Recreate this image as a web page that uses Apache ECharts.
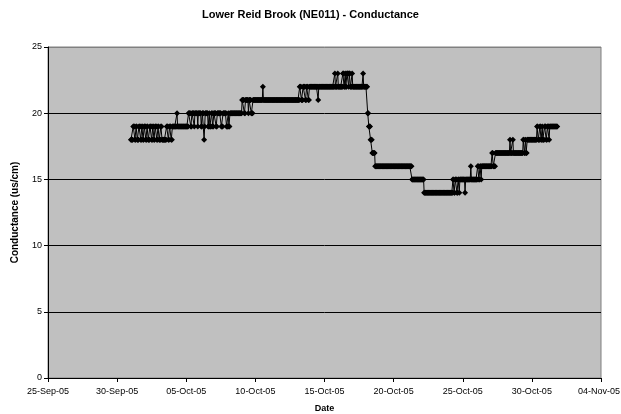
<!DOCTYPE html>
<html>
    <head>
        <meta charset="UTF-8" />
        <script src="https://cdn.jsdelivr.net/npm/echarts@6/dist/echarts.min.js"></script>
    </head>

    <body style="margin:0;background:#fff">
        <div id="main" style="width: 621px; height: 414px"></div>
        <script type="text/javascript">
            // hourly readings from 01-Oct-05 00:00, stored as runs of equal values
            var runLevels = [
                18,
                19,18,19,18,19,18,19,18,19,18,19,18,19,18,19,18,19,18,19,18,19,18,
                19,18,19,18,19,
                19,20,19,
                20,19,20,19,20,19,20,19,20,18,19,20,19,20,19,20,19,20,19,20,19,20,19,20,19,20,
                21,20,21,20,21,20,21,22,21,
                22,21,22,21,22,21,
                22,21,22,23,22,23,22,23,22,23,22,23,22,23,22,23,22,23,22,
                20,19,18,17,
                16,
                15,
                14,
                15,14,15,14,15,14,15,14,15,16,15,
                16,15,16,15,16,
                17,16,17,18,17,18,17,
                18,17,18,17,18,
                19,18,19,18,19,18,19,18,19,18,19
            ];
            var runHours = [
                4,
                3,2,2,3,3,2,2,2,3,2,2,3,3,2,2,2,3,2,2,3,2,8,
                3,2,3,2,4,
                4,1,19,
                4,2,4,1,5,1,5,2,3,1,1,5,2,1,3,2,2,4,2,7,3,6,3,1,2,21,
                4,2,5,1,4,3,17,1,63,
                3,3,4,2,3,2,
                15,1,28,1,4,1,8,2,2,1,2,3,1,2,3,1,18,1,7,
                2,3,3,5,
                64,
                21,
                50,
                2,2,3,2,2,1,9,1,9,1,11,
                2,2,2,1,18,
                2,4,25,1,4,1,17,
                2,2,1,2,17,
                2,3,2,2,1,3,3,2,3,1,14
            ];
            var startDay = 6; // days after 25-Sep-05

            var tickLabels = ['25-Sep-05', '30-Sep-05', '05-Oct-05', '10-Oct-05', '15-Oct-05',
                              '20-Oct-05', '25-Oct-05', '30-Oct-05', '04-Nov-05'];

            var data = [];
            var h = 0;
            for (var i = 0; i < runLevels.length; i++) {
                for (var k = 0; k < runHours[i]; k++) {
                    data.push([startDay + h / 24, runLevels[i]]);
                    h++;
                }
            }

            var font = 'Liberation Sans, Arial, sans-serif';
            var myChart = echarts.init(document.getElementById('main'));
            var option = {
                animation: false,
                backgroundColor: '#ffffff',
                title: {
                    text: 'Lower Reid Brook (NE011) - Conductance',
                    left: 'center',
                    top: 4,
                    textStyle: { fontFamily: font, fontSize: 11, fontWeight: 'bold', color: '#000' }
                },
                grid: {
                    left: 48, right: 20, top: 47, bottom: 36,
                    outerBoundsMode: 'none',
                    containLabel: false,
                    show: true,
                    backgroundColor: '#c0c0c0',
                    borderColor: '#808080',
                    borderWidth: 1
                },
                xAxis: {
                    type: 'value',
                    min: 0, max: 40, interval: 5,
                    name: 'Date',
                    nameLocation: 'middle',
                    nameGap: 26,
                    nameTextStyle: { fontFamily: font, fontSize: 9, fontWeight: 'bold', color: '#000' },
                    axisLine: { lineStyle: { color: '#000', width: 1 } },
                    axisTick: { length: 4, lineStyle: { color: '#000' } },
                    axisLabel: {
                        fontFamily: font, fontSize: 9, color: '#000', margin: 9,
                        formatter: function (v) {
                            var idx = Math.round(v / 5);
                            // last label sits on the page edge, nudge it in a little
                            return idx === tickLabels.length - 1 ? '{last|' + tickLabels[idx] + '}' : tickLabels[idx];
                        },
                        rich: {
                            last: { fontFamily: font, fontSize: 9, color: '#000', padding: [0, 4, 0, 0] }
                        }
                    },
                    splitLine: { show: false }
                },
                yAxis: {
                    type: 'value',
                    min: 0, max: 25, interval: 5,
                    name: 'Conductance (us/cm)',
                    nameLocation: 'middle',
                    nameGap: 28,
                    nameTextStyle: { fontFamily: font, fontSize: 10, fontWeight: 'bold', color: '#000' },
                    axisLine: { show: true, lineStyle: { color: '#000', width: 1 } },
                    axisTick: { show: true, length: 4, lineStyle: { color: '#000' } },
                    axisLabel: { fontFamily: font, fontSize: 9, color: '#000', margin: 6 },
                    splitLine: {
                        show: true,
                        lineStyle: { color: ['#000', '#000', '#000', '#000', '#000', '#808080'], width: 1 }
                    }
                },
                series: [
                    {
                        name: 'Conductance',
                        type: 'line',
                        data: data,
                        symbol: 'diamond',
                        symbolSize: 6,
                        showAllSymbol: true,
                        color: '#000',
                        itemStyle: { color: '#000' },
                        lineStyle: { color: '#000', width: 1 }
                    }
                ]
            };

            option && myChart.setOption(option);
        </script>
    </body>
</html>
